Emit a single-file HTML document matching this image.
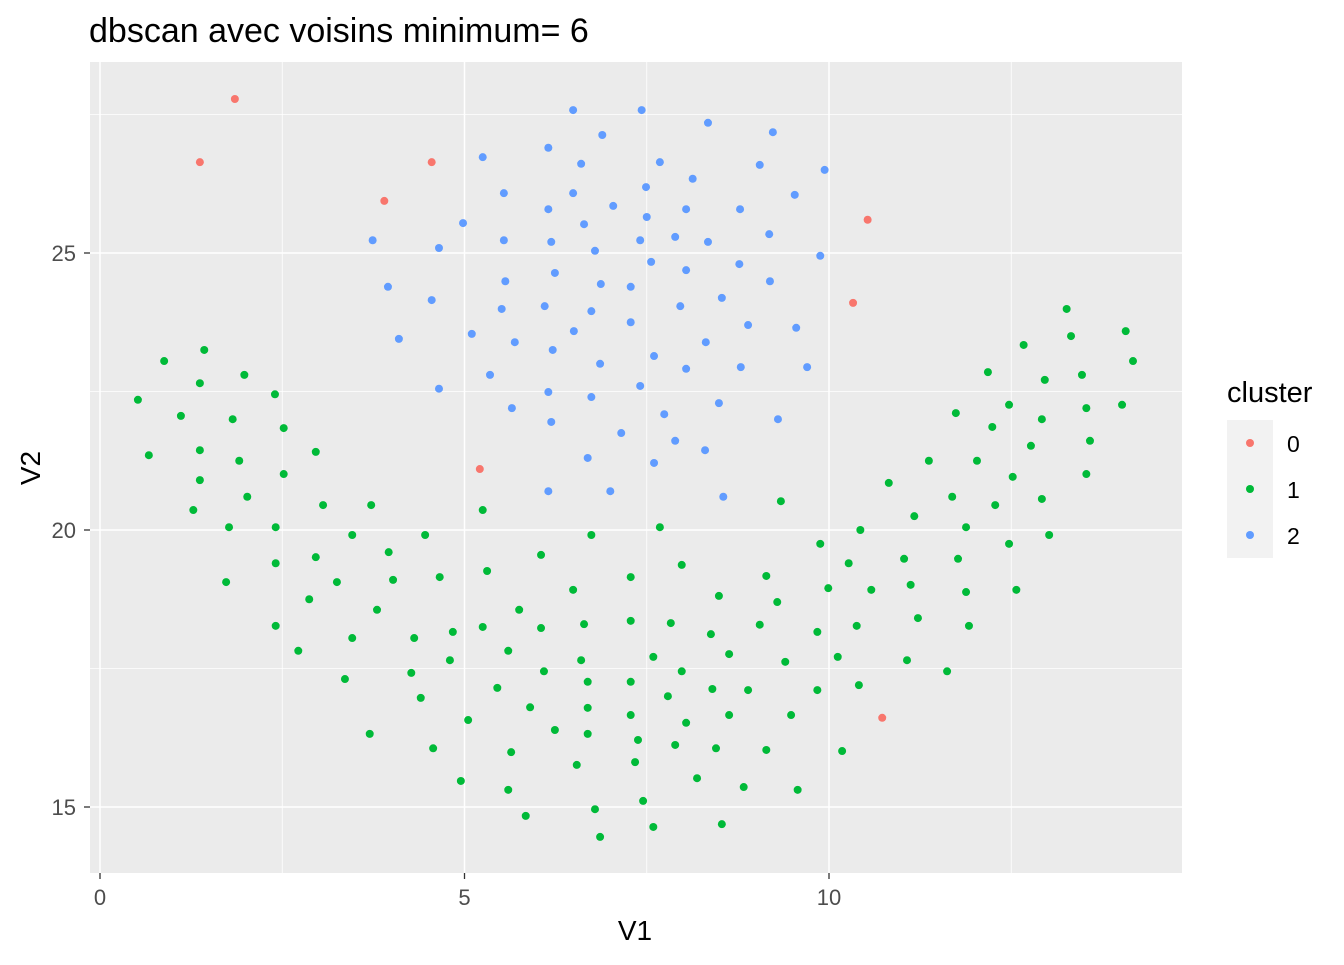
<!DOCTYPE html>
<html><head><meta charset="utf-8"><style>
body{margin:0;background:#fff;font-family:"Liberation Sans",sans-serif;}
</style></head><body>
<svg id="chart" width="1344" height="960" xmlns="http://www.w3.org/2000/svg">
<text x="89" y="42" font-size="34" fill="#000">dbscan avec voisins minimum= 6</text>
<rect x="90" y="62" width="1092" height="811" fill="#ebebeb"/>
<g id="grid"></g><g id="pts"></g><g id="axes"></g>
<text x="635" y="940" font-size="28" text-anchor="middle" fill="#000">V1</text>
<text x="0" y="0" font-size="28" text-anchor="middle" fill="#000" transform="translate(40,468) rotate(-90)">V2</text>
<g>
<text x="1227" y="402" font-size="29" fill="#000">cluster</text>
<rect x="1227" y="420" width="46" height="138" fill="#f2f2f2"/>
<circle cx="1250" cy="443" r="4" fill="#F8766D"/>
<circle cx="1250" cy="489" r="4" fill="#00BA38"/>
<circle cx="1250" cy="535" r="4" fill="#619CFF"/>
<text x="1287" y="452" font-size="23" fill="#000">0</text>
<text x="1287" y="498" font-size="23" fill="#000">1</text>
<text x="1287" y="544" font-size="23" fill="#000">2</text>
</g>
</svg>
<script>
const xTicks=[0,5,10];
const yTicks=[15,20,25];
const xMinor=[2.5,7.5,12.5];
const yMinor=[17.5,22.5,27.5];
const c0x=[1.85,1.37,4.55,3.90,10.53,10.33,5.21,10.73];
const c0y=[27.78,26.64,26.64,25.94,25.60,24.10,21.10,16.61];
const c2x=[6.49,7.43,8.34,9.23,6.89,5.25,6.15,6.60,7.68,9.05,9.94,8.13,7.49,6.49,5.54,7.04,9.53,4.98,6.15,8.04,8.78,7.50,6.64,3.74,5.54,6.19,4.65,7.41,7.89,8.34,9.18,6.79,9.88,7.56,8.77,6.24,8.04,3.95,5.56,6.87,7.28,9.19,4.55,5.51,6.10,7.96,8.53,6.74,4.10,5.10,5.69,6.50,7.28,8.89,9.55,6.21,7.60,8.31,6.86,5.35,8.04,8.79,9.70,4.65,6.15,7.41,6.74,5.65,7.74,8.49,9.30,6.19,7.15,7.89,8.30,6.69,7.60,6.15,7.00,8.55];
const c2y=[27.58,27.58,27.35,27.18,27.13,26.73,26.90,26.61,26.64,26.59,26.50,26.34,26.19,26.08,26.08,25.85,26.05,25.54,25.79,25.79,25.79,25.65,25.52,25.23,25.23,25.20,25.09,25.23,25.29,25.20,25.34,25.04,24.95,24.84,24.80,24.64,24.69,24.39,24.49,24.44,24.39,24.49,24.15,23.99,24.04,24.04,24.19,23.95,23.45,23.54,23.39,23.59,23.75,23.70,23.65,23.25,23.14,23.39,23.00,22.80,22.91,22.94,22.94,22.55,22.49,22.60,22.40,22.20,22.09,22.29,22.00,21.95,21.75,21.61,21.44,21.30,21.21,20.70,20.70,20.60];
const c1x=[0.52,0.88,1.43,0.67,1.11,1.37,1.98,2.40,1.37,1.82,2.52,1.28,1.37,1.91,2.02,2.96,2.52,1.77,2.41,1.73,2.41,2.96,3.06,3.72,2.41,2.72,2.87,3.25,3.46,3.96,4.02,3.80,3.46,3.36,4.46,4.66,4.31,4.27,3.70,4.40,4.84,4.80,4.57,5.05,4.95,5.25,5.31,5.25,5.45,5.64,5.60,5.84,5.75,5.60,5.90,6.05,6.05,6.09,6.24,6.54,6.49,6.64,6.60,6.69,6.69,6.69,6.74,6.79,6.86,7.28,7.28,7.28,7.28,7.34,7.38,7.45,7.59,7.59,7.68,7.83,7.98,7.98,7.79,7.89,8.04,8.19,8.38,8.40,8.45,8.49,8.53,8.63,8.63,8.89,8.83,9.05,9.14,9.14,9.29,9.34,9.40,9.48,9.57,9.84,9.84,9.88,9.99,10.12,10.18,10.27,10.38,10.41,10.43,10.58,10.82,11.07,11.03,11.12,11.17,11.22,11.37,11.62,11.69,11.74,11.77,11.88,11.88,11.92,12.03,12.18,12.24,12.28,12.47,12.47,12.52,12.57,12.67,12.77,12.92,12.92,12.96,13.02,13.26,13.32,13.47,13.53,13.53,13.58,14.02,14.07,14.17];
const c1y=[22.35,23.05,23.25,21.35,22.06,22.65,22.80,22.45,21.44,22.00,21.84,20.36,20.90,21.25,20.60,21.41,21.01,20.05,20.05,19.06,19.40,19.51,20.45,20.45,18.27,17.82,18.75,19.06,19.91,19.60,19.10,18.56,18.05,17.31,19.91,19.15,18.05,17.42,16.32,16.97,18.16,17.65,16.06,16.57,15.47,20.36,19.26,18.25,17.15,15.99,15.31,14.84,18.56,17.82,16.80,19.55,18.23,17.45,16.39,15.76,18.92,18.30,17.65,17.26,16.79,16.32,19.91,14.96,14.46,19.15,18.36,17.26,16.66,15.81,16.21,15.11,14.64,17.71,20.05,18.32,19.37,17.45,17.00,16.12,16.52,15.52,18.12,17.13,16.06,18.81,14.69,17.76,16.66,17.11,15.36,18.29,19.17,16.03,18.70,20.52,17.62,16.66,15.31,18.16,17.11,19.75,18.95,17.71,16.01,19.40,18.27,17.20,20.00,18.92,20.85,17.65,19.48,19.01,20.25,18.41,21.25,17.45,20.60,22.11,19.48,18.88,20.05,18.27,21.25,22.85,21.86,20.45,22.26,19.75,20.96,18.92,23.34,21.52,20.56,22.00,22.71,19.91,23.99,23.50,22.80,22.20,21.01,21.61,22.26,23.59,23.05];
const X=v=>100+72.9*v;
const Y=v=>530-(v-20)*55.4;
const NS="http://www.w3.org/2000/svg";
function mk(tag,attrs,parent){const e=document.createElementNS(NS,tag);for(const k in attrs)e.setAttribute(k,attrs[k]);parent.appendChild(e);return e;}
const grid=document.getElementById('grid'),pts=document.getElementById('pts'),axes=document.getElementById('axes');
xMinor.forEach(v=>{const l=mk('line',{x1:X(v),x2:X(v),y1:62,y2:873,stroke:'#fff','stroke-width':0.8},grid);

});
yMinor.forEach(v=>{const l=mk('line',{x1:90,x2:1182,y1:Y(v),y2:Y(v),stroke:'#fff','stroke-width':0.8},grid);

});
xTicks.forEach(v=>{const l=mk('line',{x1:X(v),x2:X(v),y1:62,y2:873,stroke:'#fff','stroke-width':1.5},grid);


const t=mk('line',{x1:X(v),x2:X(v),y1:873,y2:879,stroke:'#333','stroke-width':1.3},axes);


const tx=mk('text',{x:X(v),y:905,'font-size':22,'text-anchor':'middle',fill:'#4d4d4d'},axes);tx.textContent=v;

});
yTicks.forEach(v=>{const l=mk('line',{x1:90,x2:1182,y1:Y(v),y2:Y(v),stroke:'#fff','stroke-width':1.5},grid);


const t=mk('line',{x1:84,x2:90,y1:Y(v),y2:Y(v),stroke:'#333','stroke-width':1.3},axes);


const tx=mk('text',{x:76,y:Y(v)+8,'font-size':22,'text-anchor':'end',fill:'#4d4d4d'},axes);tx.textContent=v;

});
function draw(xs,ys,col,name){xs.forEach((v,i)=>{const c=mk('circle',{cx:X(v),cy:Y(ys[i]),r:4,fill:col},pts);

});}
draw(c1x,c1y,'#00BA38','point-cluster-1');
draw(c2x,c2y,'#619CFF','point-cluster-2');
draw(c0x,c0y,'#F8766D','point-cluster-0');
</script>
</body></html>
